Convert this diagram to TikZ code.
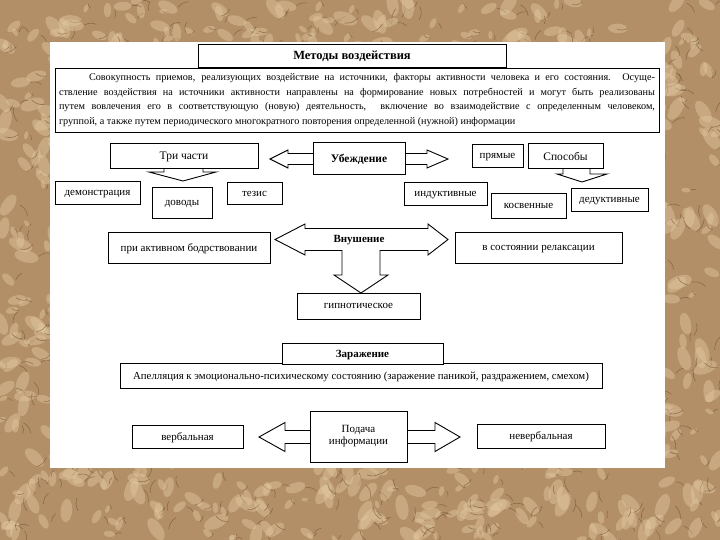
\documentclass[tikz,border=0pt]{standalone}
\usepackage{fontspec}
\setmainfont{Liberation Serif}
\usepackage{tikz}
\usetikzlibrary{calc}
\definecolor{bgbrown}{RGB}{178,143,102}
\definecolor{bgdark}{RGB}{112,80,50}
\definecolor{bglight}{RGB}{226,200,160}

\begin{document}
\begin{tikzpicture}[x=1pt, y=-1pt, blk/.style={draw, fill=white, line width=0.9pt, inner sep=2pt, text depth=0pt, font=\fontsize{11}{12}\selectfont}, hd/.style={blk, font=\bfseries\fontsize{11.5}{13}\selectfont}, arr/.style={draw, fill=white, line width=0.9pt, line join=miter}]

\useasboundingbox (0,0) rectangle (720,540);
\fill[bgbrown] (0,0) rectangle (720,540);
\pgfmathsetseed{7}
\foreach \i in {1,...,1100} {
  \pgfmathsetmacro{\px}{rnd*720}
  \pgfmathsetmacro{\py}{rnd*540}
  \pgfmathsetmacro{\pa}{rnd*360}
  \pgfmathsetmacro{\pl}{4+rnd*9}
  \fill[bglight, opacity=0.45] (\px,\py) ellipse[x radius=\pl, y radius=\pl*0.5, rotate=\pa];
  \draw[bgdark, opacity=0.6, line width=0.6pt, line cap=round] (\px+\pl,\py) to[bend left=25] ++(\pa:\pl*1.1);
}
\fill[white] (50,42) rectangle (665,468);

\node[blk, text depth=, minimum width=604pt, minimum height=64pt, text width=596pt, align=justify, font=\fontsize{10.2}{14.5}\selectfont] (opis) at (357,100) {\hspace*{30pt}Совокупность приемов, реализующих воздействие на источники, факторы активности человека и его состояния. Осуще-\linebreak ствление воздействия на источники активности направлены на формирование новых потребностей и могут быть реализованы\linebreak путем вовлечения его в соответствующую (новую) деятельность, \ включение во взаимодействие с определенным человеком,\linebreak группой, а также путем периодического многократного повторения определенной (нужной) информации};
\node[hd, minimum width=308pt, minimum height=23pt, font=\bfseries\fontsize{12.5}{14}\selectfont] (metody) at (352,55.5) {Методы воздействия};

\coordinate (ubL) at (270,159);
\coordinate (ubR) at (448,159);
\coordinate (triT) at (183,181);
\coordinate (spT) at (582,182);
\coordinate (vnL) at (275,239.5);
\coordinate (vnR) at (448,239.5);
\coordinate (vnD) at (361,293);
\coordinate (pdL) at (259,437);
\coordinate (pdR) at (460,437);

\draw[arr] (ubL) -- ++(18,-9) -- ++(0,3.5) -- ($(ubR)+(-21,-5.5)$) -- ++(0,-3.5) -- (ubR) -- ++(-21,9) -- ++(0,-3.5) -- ($(ubL)+(18,5.5)$) -- ++(0,3.5) -- cycle;
\draw[arr] ($(triT)+(-19,-13)$) -- ++(0,4) -- ++(-15,0) -- (triT) -- ++(33,-9) -- ++(-13,0) -- ++(0,-4);
\draw[arr] ($(spT)+(-19,-14)$) -- ++(0,6) -- ++(-6,0) -- (spT) -- ++(25,-8) -- ++(-17,0) -- ++(0,-6);
\draw[arr] (vnL) -- ++(30,-15.5) -- ++(0,4.5) -- ($(vnR)+(-20,-11)$) -- ++(0,-4.5) -- (vnR) -- ++(-20,15.5) -- ++(0,-4.5) -- ($(vnD)+(19,-42.5)$) -- ++(0,24.5) -- ++(8,0) -- (vnD) -- ++(-27,-18) -- ++(8,0) -- ++(0,-24.5) -- ($(vnL)+(30,11)$) -- ++(0,4.5) -- cycle;
\draw[arr] (pdL) -- ++(26,-14.5) -- ++(0,8) -- ($(pdR)+(-25,-6.5)$) -- ++(0,-8) -- (pdR) -- ++(-25,14.5) -- ++(0,-8) -- ($(pdL)+(26,6.5)$) -- ++(0,8) -- cycle;

\node[blk, minimum width=148pt, minimum height=25pt, font=\fontsize{11.5}{13}\selectfont] (tri) at (184,156) {Три части};
\node[hd, minimum width=92pt, minimum height=32pt] (ubezh) at (359,158) {Убеждение};
\node[blk, minimum width=51pt, minimum height=23pt] (pryam) at (497.5,155.5) {прямые};
\node[blk, minimum width=75pt, minimum height=25pt, font=\fontsize{11.5}{13}\selectfont] (sposob) at (565.5,156) {Способы};
\node[blk, minimum width=85pt, minimum height=23pt] (demo) at (97.5,193) {демонстрация};
\node[blk, minimum width=60pt, minimum height=31pt] (dovod) at (182,203) {доводы};
\node[blk, minimum width=55pt, minimum height=22pt] (tezis) at (254.5,193.5) {тезис};
\node[blk, minimum width=83pt, minimum height=23pt] (indukt) at (445.5,193.5) {индуктивные};
\node[blk, minimum width=75pt, minimum height=25pt] (kosven) at (528.5,206) {косвенные};
\node[blk, minimum width=77pt, minimum height=23pt] (dedukt) at (609.5,200) {дедуктивные};

\node[font=\bfseries\fontsize{11}{13}\selectfont] (vnush) at (359,240) {Внушение};
\node[blk, minimum width=162pt, minimum height=31pt] (aktiv) at (189,247.5) {при активном бодрствовании};
\node[blk, minimum width=167pt, minimum height=31pt] (relaks) at (538.5,247.5) {в состоянии релаксации};
\node[blk, minimum width=123pt, minimum height=26pt] (gipno) at (358.5,306) {гипнотическое};

\node[blk, minimum width=482pt, minimum height=25pt, font=\fontsize{10.8}{12}\selectfont] (apel) at (361,375.5) {Апелляция к эмоционально-психическому состоянию (заражение паникой, раздражением, смехом)};
\node[hd, minimum width=161pt, minimum height=21pt, font=\bfseries\fontsize{11}{12}\selectfont] (zaraz) at (362.5,353.5) {Заражение};

\node[blk, text depth=, minimum width=97pt, minimum height=51pt, align=center] (podacha) at (358.5,436.5) {Подача\\информации};
\node[blk, minimum width=111pt, minimum height=23pt] (verb) at (187.5,436.5) {вербальная};
\node[blk, minimum width=128pt, minimum height=24pt] (neverb) at (541,436) {невербальная};
\end{tikzpicture}
\end{document}
